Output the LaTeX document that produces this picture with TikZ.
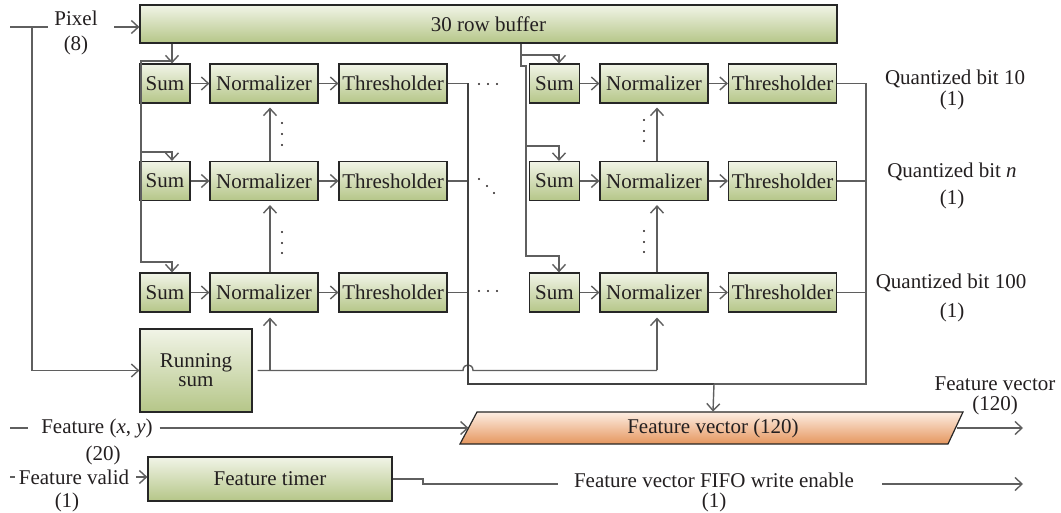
\documentclass[tikz,border=0pt]{standalone}
\usepackage{fontspec}
\setmainfont{Liberation Serif}
\usetikzlibrary{arrows.meta}

\definecolor{gtop}{RGB}{241,244,231}
\definecolor{gbot}{RGB}{181,198,136}
\definecolor{otop}{RGB}{253,238,227}
\definecolor{obot}{RGB}{229,150,94}
\definecolor{wirec}{RGB}{95,95,95}
\definecolor{ink}{RGB}{35,31,32}

\tikzset{
  every node/.style={font=\fontsize{10.5pt}{12.5pt}\selectfont, text=ink},
  blk/.style={draw=black!85, line width=0.6pt, top color=gtop, bottom color=gbot,
              inner sep=0pt, minimum height=19.5pt},
  sumbox/.style={blk, minimum width=25pt},
  normbox/.style={blk, minimum width=54pt},
  thrbox/.style={blk, minimum width=54pt},
  wire/.style={draw=wirec, line width=0.7pt},
  arr/.style={wire, -{Straight Barb[length=3.5pt,width=6.5pt]}},
  bus/.style={draw=black!75, line width=1pt},
  fvshape/.style={draw=black!85, line width=0.6pt, top color=otop, bottom color=obot},
}

\begin{document}
\begin{tikzpicture}[x=0.5pt,y=-0.5pt]
\useasboundingbox (0,0) rectangle (1061,513);

% ---------- blocks ----------
\node[blk, minimum width=348.5pt, minimum height=19pt] (buf) at (488.5,24) {30 row buffer};

\foreach \r/\y in {1/83.5,2/181,3/292.5}{
  \node[sumbox]  (sA\r) at (165,\y)   {Sum};
  \node[normbox] (nA\r) at (264,\y)   {Normalizer};
  \node[thrbox]  (tA\r) at (393,\y)   {Thresholder};
  \node[sumbox]  (sB\r) at (554.5,\y) {Sum};
  \node[normbox] (nB\r) at (654,\y)   {Normalizer};
  \node[thrbox]  (tB\r) at (782.5,\y) {Thresholder};
}

\node[blk, minimum width=56pt, minimum height=41.5pt, align=center,
      font=\fontsize{10.5pt}{9.5pt}\selectfont] (rs) at (196,370.5) {Running\\sum};
\node[blk, minimum width=122pt, minimum height=22pt] (tm) at (270,479) {Feature timer};

\path[fvshape] (460,444) -- (477,412) -- (963,412) -- (948,444) -- cycle;
\node[inner sep=0pt, minimum width=244pt, minimum height=16pt] (fv) at (713,428) {Feature vector (120)};

% ---------- labels ----------
\node[align=center] (pix) at (76,33) {Pixel\\(8)};
\node (fxy)  at (97,428)  {Feature (\textit{x}, \textit{y})};
\node (fxyw) at (103,455) {(20)};
\node (fval) at (74,477)  {Feature valid};
\node (fvalw) at (67,502) {(1)};
\node (we)   at (714,480) {Feature vector FIFO write enable};
\node (wew)  at (714,502) {(1)};
\node (fo)   at (995,384) {Feature vector};
\node (fow)  at (995,405) {(120)};
\node (q1)   at (955,79)  {Quantized bit 10};
\node (q1w)  at (952,100) {(1)};
\node (q2)   at (952,172) {Quantized bit \textit{n}};
\node (q2w)  at (952,199) {(1)};
\node (q3)   at (951,283) {Quantized bit 100};
\node (q3w)  at (952,312) {(1)};

% ---------- helper coordinates ----------
\coordinate (p0) at (10,27);
\coordinate (p1) at (48,27);
\coordinate (pj) at (32,27);
\coordinate (p2) at (114,27);
\coordinate (xa) at (172,0);
\coordinate (xb) at (559,0);
\coordinate (xna) at (270,0);
\coordinate (xnb) at (657,0);
\coordinate (xo) at (468,0);
\coordinate (xr) at (866,0);
\coordinate (jn) at (714,384);

% ---------- pixel input ----------
\draw[wire] (p0) -- (p1);
\draw[arr] (p2) -- (p2 -| buf.west);
\draw[arr] (pj) |- (rs.west);

% ---------- row buffer to left group ----------
\draw[arr] (xa |- buf.south) -- (xa |- sA1.north);
\draw[arr] (172,61) -| (141,152) -- (172,152) -- (xa |- sA2.north);
\draw[arr] (141,152) |- (172,262) -- (xa |- sA3.north);

% ---------- row buffer to right group ----------
\draw[arr] (521,0 |- buf.south) -- (521,55) -| (xb |- sB1.north);
\draw[wire] (521,55) -- (521,66) -- (526,66) -- (526,146);
\draw[arr] (526,146) -| (xb |- sB2.north);
\draw[arr] (526,146) |- (559,256) -- (xb |- sB3.north);

% ---------- row pipelines ----------
\foreach \r in {1,2,3}{
  \draw[arr] (sA\r.east) -- (nA\r.west);
  \draw[arr] (nA\r.east) -- (tA\r.west);
  \draw[arr] (sB\r.east) -- (nB\r.west);
  \draw[arr] (nB\r.east) -- (tB\r.west);
  \draw[wire] (tA\r.east) -- (tA\r.east -| xo);
  \draw[wire] (tB\r.east) -- (tB\r.east -| xr);
}

% normalizer chains
\draw[arr, shorten >=2pt] (xna |- nA2.north) -- (xna |- nA1.south);
\draw[arr, shorten >=2pt] (xna |- nA3.north) -- (xna |- nA2.south);
\draw[arr, shorten >=2pt] (xnb |- nB2.north) -- (xnb |- nB1.south);
\draw[arr, shorten >=2pt] (xnb |- nB3.north) -- (xnb |- nB2.south);

% running sum feeds the last normalizers (hopping over the bit bus)
\draw[wire] ([xshift=2.5pt]rs.east) -- (463,370.5)
  .. controls (463,363) and (473,363) .. (473,370.5) -- (xnb |- rs.east);
\draw[arr, shorten >=2.5pt] (xna |- rs.east) -- (xna |- nA3.south);
\draw[arr, shorten >=2.5pt] (xnb |- rs.east) -- (xnb |- nB3.south);

% quantized bits collected into the feature vector
\draw[bus] (xo |- tA1.east) -- (468,384) -- (jn);
\draw[wire] (xr |- tB1.east) |- (jn);
\draw[arr] (jn) -- (fv.north);

% ---------- ellipsis marks ----------
\foreach \x in {479,488,497}{
  \fill[ink] (\x,84) circle[radius=0.55pt];
  \fill[ink] (\x,291) circle[radius=0.55pt];
}
\foreach \x/\y in {479/179,487/186,494/193}
  \fill[ink] (\x,\y) circle[radius=0.55pt];
\foreach \y in {123,134,145,232,243,253}
  \fill[ink] (282,\y) circle[radius=0.55pt];
\foreach \y in {120,131,141,231,242,252}
  \fill[ink] (644,\y) circle[radius=0.55pt];

% ---------- feature position and output ----------
\draw[wire] (10,428) -- (28,428);
\draw[arr] (fxy.east) -- (fv.west);
\draw[arr] (fv.east) -- (1023,428);

% ---------- feature valid / timer ----------
\draw[wire] (10,477) -- (15,477);
\draw[arr] (fval.east) -- (fval.east -| tm.west);
\draw[wire] (tm.east) -- (423,479) -- (423,484) -- (558,484);
\draw[arr] (882,484) -- (1023,484);

\end{tikzpicture}
\end{document}
